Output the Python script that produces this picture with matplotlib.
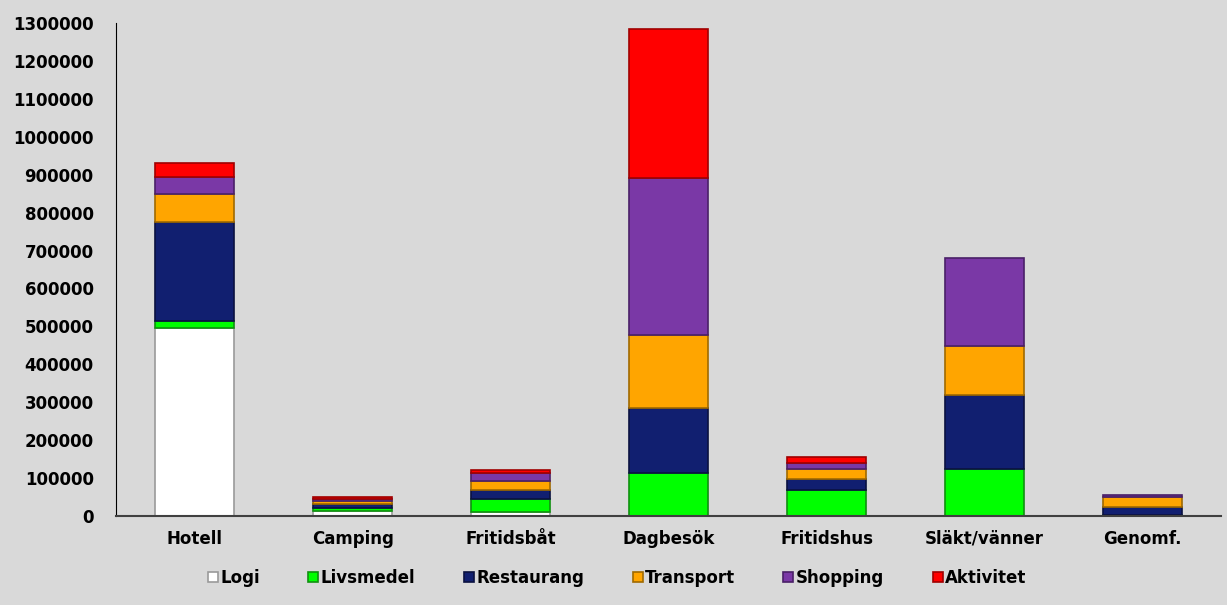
import numpy as np
import matplotlib
matplotlib.use("Agg")
import matplotlib.pyplot as plt

categories = ["Hotell", "Camping", "Fritidsbåt", "Dagbesök", "Fritidshus", "Släkt/vänner", "Genomf."]
series = ["Logi", "Livsmedel", "Restaurang", "Transport", "Shopping", "Aktivitet"]

logi       = [495000, 13000, 11000,      0,     0,      0,     0]
livsmedel  = [ 19000,  9000, 33000, 113000, 70000, 124000,  2000]
restaurang = [262000, 11000, 25000, 173000, 27000, 195000, 22000]
transport  = [ 73000,  6000, 23000, 192000, 26000, 130000, 27000]
shopping   = [ 46000,  6000, 21000, 413000, 18000, 231000,  4000]
aktivitet  = [ 37000,  5000,  8000, 394000, 14000,      0,     0]

colors = ["#ffffff", "#00ff00", "#111f70", "#ffa500", "#7a38a6", "#ff0000"]
edges = ["#9a9a9a", "#109010", "#0a1140", "#a06a00", "#4a2068", "#a00000"]

bg = "#d9d9d9"
fig = plt.figure(figsize=(12.27, 6.05), dpi=100, facecolor=bg)
ax = fig.add_axes([0.0945, 0.147, 0.901, 0.815], facecolor=bg)

x = np.arange(len(categories))
bottom = np.zeros(len(categories))
data = [logi, livsmedel, restaurang, transport, shopping, aktivitet]
handles = []
for name, vals, c, ec in zip(series, data, colors, edges):
    vals = np.array(vals, dtype=float)
    lw = np.where(vals > 0, 1.2, 0.0)
    b = ax.bar(x, vals, width=0.5, bottom=bottom, color=c, edgecolor=ec,
               linewidth=lw, label=name)
    handles.append(b)
    bottom += vals

ax.set_xlim(-0.5, len(categories) - 0.5)
ax.set_ylim(0, 1300000)
ax.set_yticks(np.arange(0, 1300001, 100000))
ax.set_yticklabels([str(v) for v in range(0, 1300001, 100000)])
ax.set_xticks(x)
ax.set_xticklabels(categories)

for lab in ax.get_xticklabels() + ax.get_yticklabels():
    lab.set_fontweight("bold")
    lab.set_fontsize(12)
ax.tick_params(axis="both", length=0)
ax.tick_params(axis="x", pad=10)
ax.tick_params(axis="y", pad=16)

for s in ["top", "right"]:
    ax.spines[s].set_visible(False)
ax.spines["left"].set_color("black")
ax.spines["bottom"].set_color("#404040")
ax.spines["bottom"].set_linewidth(1.5)

leg = fig.legend(handles=handles, labels=series, loc="center", bbox_to_anchor=(0.503, 0.045),
                 ncol=6, frameon=False, handlelength=0.6, handleheight=0.6,
                 handletextpad=0.15, columnspacing=2.9,
                 prop={"weight": "bold", "size": 12})

fig.savefig("out.png", dpi=100, facecolor=bg)
